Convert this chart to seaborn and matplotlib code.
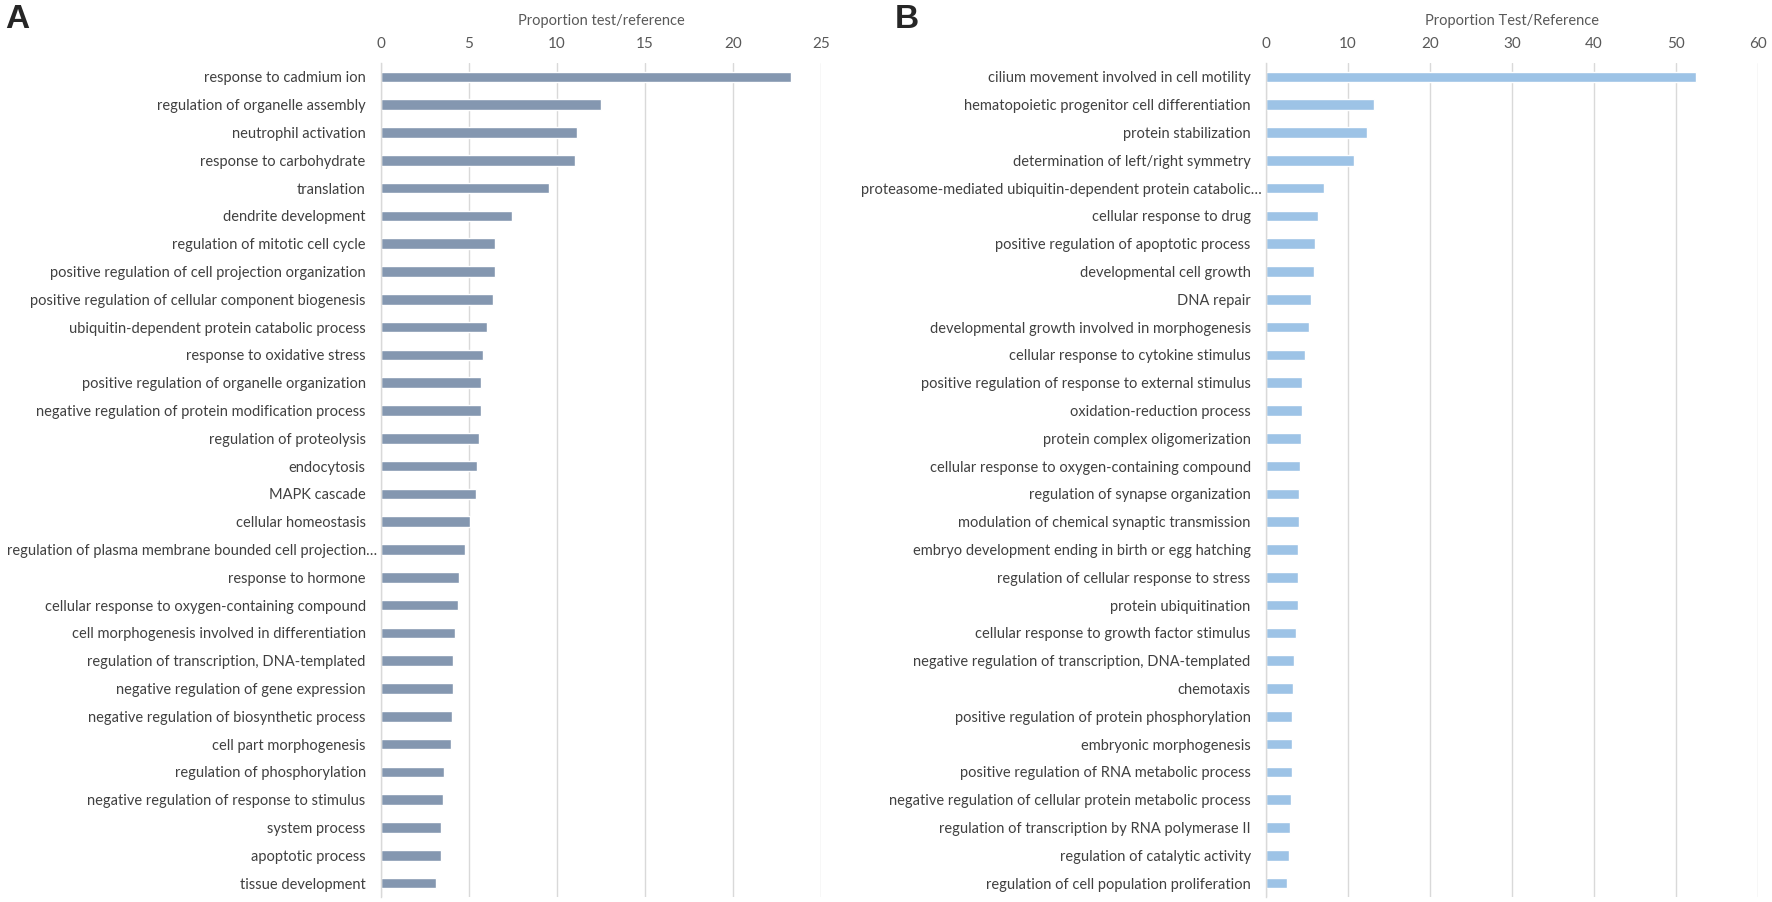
import matplotlib
import matplotlib.pyplot as plt
import matplotlib.transforms as mtransforms
import seaborn as sns

matplotlib.use("Agg")

# panel A
terms_a = [
    "response to cadmium ion",
    "regulation of organelle assembly",
    "neutrophil activation",
    "response to carbohydrate",
    "translation",
    "dendrite development",
    "regulation of mitotic cell cycle",
    "positive regulation of cell projection organization",
    "positive regulation of cellular component biogenesis",
    "ubiquitin-dependent protein catabolic process",
    "response to oxidative stress",
    "positive regulation of organelle organization",
    "negative regulation of protein modification process",
    "regulation of proteolysis",
    "endocytosis",
    "MAPK cascade",
    "cellular homeostasis",
    "regulation of plasma membrane bounded cell projection…",
    "response to hormone",
    "cellular response to oxygen-containing compound",
    "cell morphogenesis involved in differentiation",
    "regulation of transcription, DNA-templated",
    "negative regulation of gene expression",
    "negative regulation of biosynthetic process",
    "cell part morphogenesis",
    "regulation of phosphorylation",
    "negative regulation of response to stimulus",
    "system process",
    "apoptotic process",
    "tissue development",
]
values_a = [23.3, 12.5, 11.13, 11.04, 9.55, 7.45, 6.45, 6.45, 6.38, 6.04,
            5.79, 5.68, 5.68, 5.55, 5.43, 5.42, 5.04, 4.75, 4.42, 4.40,
            4.21, 4.09, 4.08, 4.06, 3.97, 3.60, 3.54, 3.41, 3.39, 3.10]

# panel B
terms_b = [
    "cilium movement involved in cell motility",
    "hematopoietic progenitor cell differentiation",
    "protein stabilization",
    "determination of left/right symmetry",
    "proteasome-mediated ubiquitin-dependent protein catabolic…",
    "cellular response to drug",
    "positive regulation of apoptotic process",
    "developmental cell growth",
    "DNA repair",
    "developmental growth involved in morphogenesis",
    "cellular response to cytokine stimulus",
    "positive regulation of response to external stimulus",
    "oxidation-reduction process",
    "protein complex oligomerization",
    "cellular response to oxygen-containing compound",
    "regulation of synapse organization",
    "modulation of chemical synaptic transmission",
    "embryo development ending in birth or egg hatching",
    "regulation of cellular response to stress",
    "protein ubiquitination",
    "cellular response to growth factor stimulus",
    "negative regulation of transcription, DNA-templated",
    "chemotaxis",
    "positive regulation of protein phosphorylation",
    "embryonic morphogenesis",
    "positive regulation of RNA metabolic process",
    "negative regulation of cellular protein metabolic process",
    "regulation of transcription by RNA polymerase II",
    "regulation of catalytic activity",
    "regulation of cell population proliferation",
]
values_b = [52.4, 13.2, 12.3, 10.77, 7.06, 6.33, 5.93, 5.89, 5.52, 5.2,
            4.8, 4.4, 4.35, 4.27, 4.14, 4.06, 4.02, 3.93, 3.9, 3.88,
            3.65, 3.45, 3.29, 3.17, 3.13, 3.13, 3.09, 2.97, 2.77, 2.57]

sns.set_style("white")
plt.rcParams["font.family"] = ["Lato", "DejaVu Sans"]

W, H = 1772, 902
fig = plt.figure(figsize=(W / 100, H / 100), dpi=100)


def panel(rect, terms, values, color, xmax, step, title, letter, letter_x, long_label):
    ax = fig.add_axes(rect)
    sns.barplot(x=values, y=terms, orient="h", color=color, width=0.38,
                saturation=1, ax=ax)
    ax.set_xlim(0, xmax)
    ax.set_ylim(len(terms) - 0.5, -0.5)
    ax.set_xticks(range(0, xmax + 1, step))
    ax.xaxis.tick_top()
    ax.xaxis.set_label_position("top")
    ax.set_xlabel(title, fontsize=10.5, color="#595959", labelpad=8)
    ax.set_ylabel("")
    ax.tick_params(axis="x", length=0, pad=9, labelsize=11, labelcolor="#595959")
    ax.tick_params(axis="y", length=0, pad=11, labelsize=10.5, labelcolor="#404040")
    ax.grid(axis="x", color="#d9d9d9", linewidth=1)
    ax.set_axisbelow(True)
    for s in ["top", "right", "bottom"]:
        ax.spines[s].set_visible(False)
    ax.spines["left"].set_color("#d9d9d9")
    ax.spines["left"].set_linewidth(1)
    # truncated label sits a little closer to the axis
    lab = ax.get_yticklabels()[long_label]
    lab.set_transform(lab.get_transform() + mtransforms.ScaledTranslation(
        8 / 72, 0, fig.dpi_scale_trans))
    fig.text(letter_x / W, 1 - 20 / H, letter, fontsize=24, fontweight="bold",
             family="Liberation Sans", ha="left", va="center")
    return ax


panel([381 / W, 5 / H, 440 / W, 834 / H], terms_a, values_a, "#8497b0",
      25, 5, "Proportion test/reference", "A", 5, 17)
panel([1266 / W, 5 / H, 492 / W, 834 / H], terms_b, values_b, "#9dc3e6",
      60, 10, "Proportion Test/Reference", "B", 895, 4)

fig.savefig("out.png", dpi=100)
